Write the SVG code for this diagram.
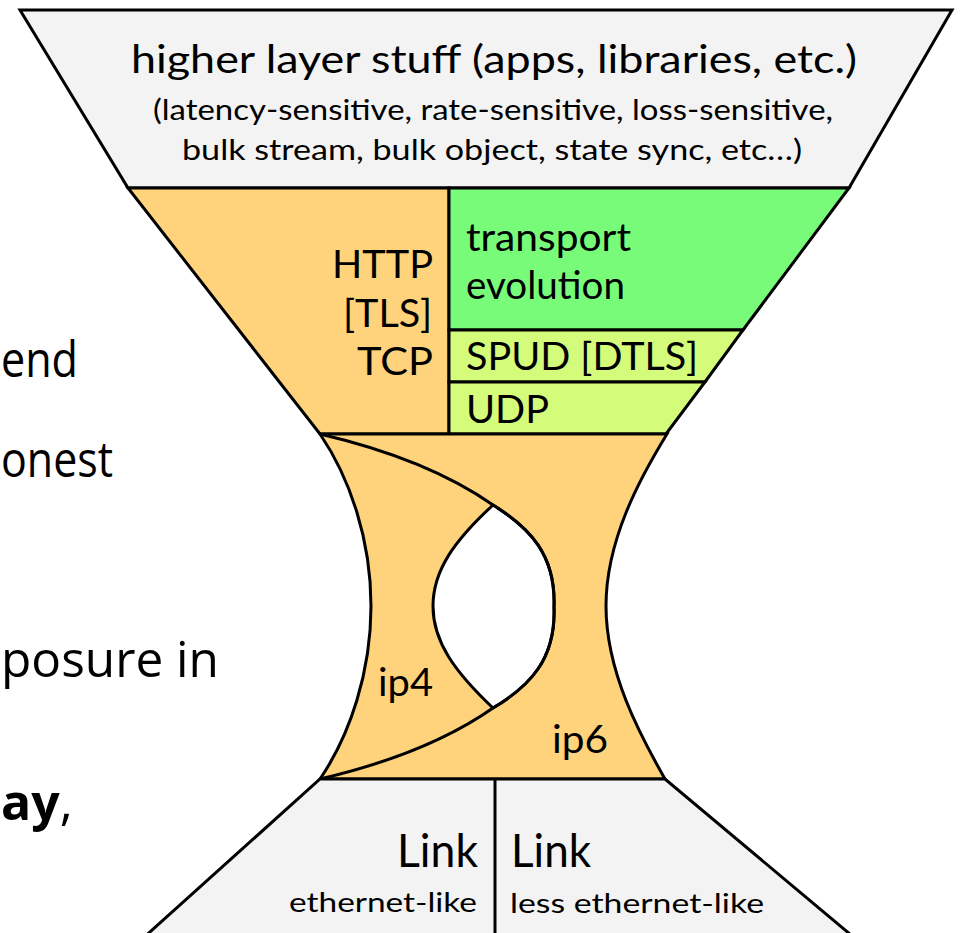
<svg xmlns="http://www.w3.org/2000/svg" width="965" height="933" viewBox="0 0 965 933">
<style>
.box{stroke:#000;stroke-width:3;stroke-linejoin:miter}
.gray{fill:#f3f3f3}
.orange{fill:#ffd37b}
.green{fill:#77fb79}
.lime{fill:#d5fb7a}
.line{fill:none;stroke:#000;stroke-width:3}
.g{font-family:Lato,"Open Sans","Liberation Sans",sans-serif;fill:#000}
.c{font-family:"Open Sans","Liberation Sans",sans-serif;fill:#000;font-size:50px}
</style>
<rect width="965" height="933" fill="#fff"/>
<g id="slide-text">
<text class="c" x="1" y="377" textLength="77" lengthAdjust="spacingAndGlyphs">end</text>
<text class="c" x="1" y="477" textLength="112" lengthAdjust="spacingAndGlyphs">onest</text>
<text class="c" x="1" y="677" textLength="218" lengthAdjust="spacingAndGlyphs">posure in</text>
<text class="c" x="1" y="820"><tspan font-weight="bold">ay</tspan>,</text>
</g>
<g id="higher-layer">
<polygon class="box gray" points="20,10 952,10 849,188 128,188"/>
<text class="g" x="131" y="73" font-size="39" textLength="726" lengthAdjust="spacingAndGlyphs">higher layer stuff (apps, libraries, etc.)</text>
<text class="g" x="153" y="120" font-size="28" textLength="680" lengthAdjust="spacingAndGlyphs">(latency-sensitive, rate-sensitive, loss-sensitive,</text>
<text class="g" x="182" y="160" font-size="28" textLength="620" lengthAdjust="spacingAndGlyphs">bulk stream, bulk object, state sync, etc…)</text>
</g>
<g id="http-tls-tcp">
<polygon class="box orange" points="128,188 449,188 449,434 320,434"/>
<text class="g" x="332" y="278" font-size="38" textLength="101" lengthAdjust="spacingAndGlyphs">HTTP</text>
<text class="g" x="343" y="327" font-size="38" textLength="89" lengthAdjust="spacingAndGlyphs">[TLS]</text>
<text class="g" x="357" y="375" font-size="38" textLength="76" lengthAdjust="spacingAndGlyphs">TCP</text>
</g>
<g id="transport-evolution">
<polygon class="box green" points="449,188 849,188 743,330 449,330"/>
<text class="g" x="466" y="251" font-size="38" textLength="165" lengthAdjust="spacingAndGlyphs">transport</text>
<text class="g" x="466" y="299" font-size="38" textLength="159" lengthAdjust="spacingAndGlyphs">evolution</text>
</g>
<g id="spud">
<polygon class="box lime" points="449,330 743,330 705,382 449,382"/>
<text class="g" x="466" y="370" font-size="38" textLength="232" lengthAdjust="spacingAndGlyphs">SPUD [DTLS]</text>
</g>
<g id="udp">
<polygon class="box lime" points="449,382 705,382 666,434 449,434"/>
<text class="g" x="466" y="423" font-size="38" textLength="83" lengthAdjust="spacingAndGlyphs">UDP</text>
</g>
<g id="ip-waist">
<path class="box orange" d="M320,434 L667,434 C640,478 606,540 606,606 C606,672 640,735 665,779 L320,779 C350,735 371,672 371,606 C371,540 350,478 320,434 Z"/>
<path class="box" fill="#fff" d="M493,505 C530,528 556,555 554,607 C556,659 530,686 493,708 C455,672 433,642 433,606 C433,570 455,540 493,505 Z"/>
<path class="line" d="M320,434 C380,448 443,470 493,505 C530,528 556,555 554,607 C556,659 530,686 493,708 C443,743 380,765 320,779"/>
<text class="g" x="378" y="696" font-size="39" textLength="55" lengthAdjust="spacingAndGlyphs">ip4</text>
<text class="g" x="552" y="753" font-size="39" textLength="56" lengthAdjust="spacingAndGlyphs">ip6</text>
</g>
<g id="link">
<polygon class="box gray" points="320,779 665,779 857,940 141,940"/>
<line class="line" x1="495" y1="779" x2="495" y2="940"/>
<text class="g" x="397" y="867" font-size="46" textLength="81" lengthAdjust="spacingAndGlyphs">Link</text>
<text class="g" x="289" y="912" font-size="27" textLength="188" lengthAdjust="spacingAndGlyphs">ethernet-like</text>
<text class="g" x="511" y="867" font-size="46" textLength="80" lengthAdjust="spacingAndGlyphs">Link</text>
<text class="g" x="510" y="913" font-size="27" textLength="254" lengthAdjust="spacingAndGlyphs">less ethernet-like</text>
</g>
<g id="connectors"/>
</svg>
